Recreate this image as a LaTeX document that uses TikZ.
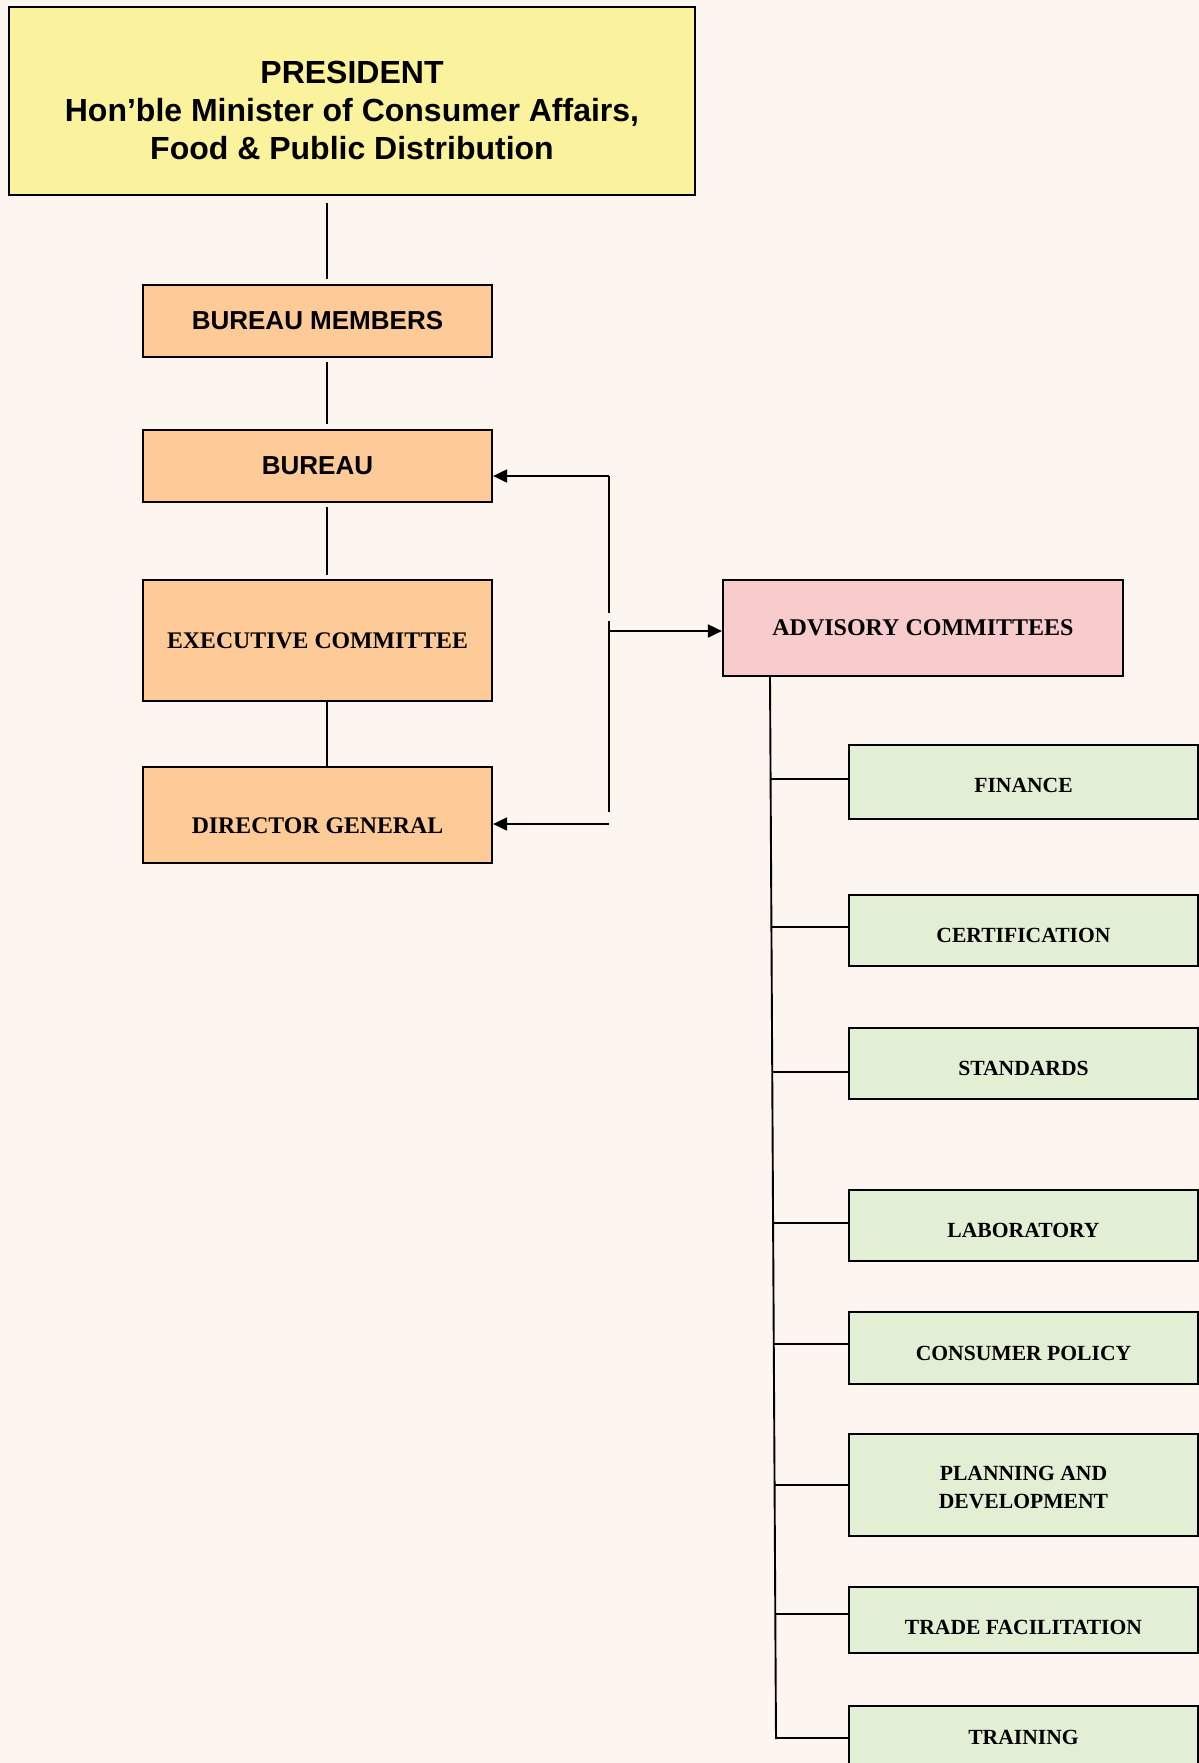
\documentclass[tikz,border=0pt]{standalone}
\usepackage{fontspec}
\setmainfont{Liberation Serif}
\newfontfamily\sansbold{Liberation Sans}
\usetikzlibrary{arrows.meta}
\definecolor{bgc}{HTML}{FDF6F0}
\definecolor{presy}{HTML}{FAF29C}
\definecolor{orng}{HTML}{FDCA98}
\definecolor{pnk}{HTML}{F8CCCC}
\definecolor{grn}{HTML}{E3EFD5}
\newcommand\dn[2]{\raisebox{-#1}[\height][\depth]{#2}}
\begin{document}
\begin{tikzpicture}[x=0.5pt,y=-0.5pt,
  box/.style={draw=black, line width=1.1pt, inner sep=0pt, anchor=center},
  obox/.style={box, fill=orng, minimum width=174.5pt},
  gbox/.style={box, fill=grn, minimum width=174.5pt, font=\bfseries\fontsize{10.8}{14}\selectfont},
  sfont/.style={font=\sansbold\bfseries\fontsize{13}{15}\selectfont},
  rfont/.style={font=\bfseries\fontsize{11.9}{14}\selectfont},
  conn/.style={draw=black, line width=0.95pt},
  arr/.style={conn, -{Triangle[length=7pt,width=6.5pt]}}]
\fill[bgc] (0,0) rectangle (1199,1763);
\useasboundingbox (0,0) rectangle (1199,1763);
\clip (0,0) rectangle (1199,1763);

% left column
\node[box, fill=presy, minimum width=343pt, minimum height=94pt] (pres) at (352,101)
  {\dn{6.5pt}{\sansbold\bfseries\fontsize{16}{19}\selectfont\begin{tabular}{@{}c@{}}PRESIDENT\\Hon’ble Minister of Consumer Affairs,\\Food \& Public Distribution\end{tabular}}};
\node[obox, sfont, minimum height=36pt] (bm) at (317.5,321) {BUREAU MEMBERS};
\node[obox, sfont, minimum height=36pt] (bur) at (317.5,466) {BUREAU};
\node[obox, rfont, minimum height=60.5pt] (ec) at (317.5,640.5) {EXECUTIVE COMMITTEE};
\node[obox, rfont, minimum height=48pt] (dg) at (317.5,815) {\dn{5.5pt}{DIRECTOR GENERAL}};

\coordinate (sp) at (327,0);
\draw[conn, shorten <=3.5pt, shorten >=2.5pt] (pres.south -| sp) -- (bm.north -| sp);
\draw[conn, shorten <=2pt, shorten >=2.5pt] (bm.south -| sp) -- (bur.north -| sp);
\draw[conn, shorten <=2pt, shorten >=2pt] (bur.south -| sp) -- (ec.north -| sp);
\draw[conn] (ec.south -| sp) -- (dg.north -| sp);

% advisory committees
\node[box, fill=pnk, rfont, minimum width=200pt, minimum height=48pt] (adv) at (923,628) {\fontsize{12}{14}\selectfont ADVISORY COMMITTEES};

% bracket
\coordinate (b1) at (609,476);
\coordinate (b2) at (609,613);
\coordinate (b3) at (609,621);
\coordinate (b4) at (609,812);
\coordinate (b5) at (609,824);
\coordinate (b6) at (609,631);
\draw[conn] (b2) -- (b1);
\draw[arr] (b1) -- (b1 -| bur.east);
\draw[conn] (b3) -- (b4);
\draw[arr] (b5) -- (b5 -| dg.east);
\draw[arr] (b6) -- (b6 -| adv.west);

% committees
\node[gbox, minimum height=37pt] (fin) at (1023.5,782) {\dn{1.5pt}{FINANCE}};
\node[gbox, minimum height=35.5pt] (cert) at (1023.5,930.5) {\dn{2.5pt}{CERTIFICATION}};
\node[gbox, minimum height=35.5pt] (std) at (1023.5,1063.5) {\dn{2.5pt}{STANDARDS}};
\node[gbox, minimum height=35.5pt] (lab) at (1023.5,1225.5) {\dn{2.5pt}{LABORATORY}};
\node[gbox, minimum height=36pt] (cons) at (1023.5,1348) {\dn{2.5pt}{CONSUMER POLICY}};
\node[gbox, minimum height=51pt] (plan) at (1023.5,1485) {\dn{1.8pt}{\begin{tabular}{@{}c@{}}PLANNING AND\\DEVELOPMENT\end{tabular}}};
\node[gbox, minimum height=33pt] (trade) at (1023.5,1620) {\dn{3.5pt}{TRADE FACILITATION}};
\node[gbox, minimum height=31pt] (train) at (1023.5,1737) {TRAINING};

% trunk
\coordinate (t0) at (770,676);
\coordinate (tE) at (776,1739);
\draw[conn] (t0) -- (tE);
\coordinate (k1) at (770.6,779);
\coordinate (k2) at (771.4,927);
\coordinate (k3) at (772.2,1072);
\coordinate (k4) at (773.1,1223);
\coordinate (k5) at (773.8,1344);
\coordinate (k6) at (774.6,1485);
\coordinate (k7) at (775.3,1614);
\coordinate (k8) at (776,1738);
\draw[conn] (k1) -- (k1 -| fin.west);
\draw[conn] (k2) -- (k2 -| cert.west);
\draw[conn] (k3) -- (k3 -| std.west);
\draw[conn] (k4) -- (k4 -| lab.west);
\draw[conn] (k5) -- (k5 -| cons.west);
\draw[conn] (k6) -- (k6 -| plan.west);
\draw[conn] (k7) -- (k7 -| trade.west);
\draw[conn] (k8) -- (k8 -| train.west);
\end{tikzpicture}
\end{document}
